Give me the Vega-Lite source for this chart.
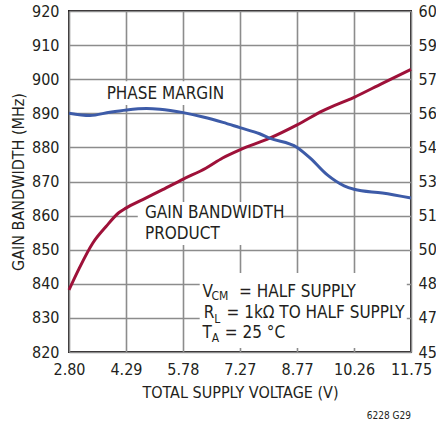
{
  "$schema": "https://vega.github.io/schema/vega-lite/v6.json",
  "width": 342,
  "height": 341,
  "autosize": "none",
  "padding": {"left": 69, "top": 11, "right": 25, "bottom": 69},
  "datasets": {
    "gbw": [
      {"x": 2.80, "mhz": 838.2},
      {"x": 3.07, "mhz": 844.6},
      {"x": 3.42, "mhz": 851.9},
      {"x": 3.77, "mhz": 856.8},
      {"x": 4.11, "mhz": 860.9},
      {"x": 4.29, "mhz": 862.2},
      {"x": 4.73, "mhz": 864.7},
      {"x": 5.25, "mhz": 867.6},
      {"x": 5.79, "mhz": 870.7},
      {"x": 6.38, "mhz": 873.9},
      {"x": 6.82, "mhz": 876.9},
      {"x": 7.27, "mhz": 879.3},
      {"x": 8.05, "mhz": 882.7},
      {"x": 8.77, "mhz": 886.6},
      {"x": 9.45, "mhz": 890.8},
      {"x": 10.26, "mhz": 894.7},
      {"x": 11.00, "mhz": 898.8},
      {"x": 11.75, "mhz": 902.9}
    ],
    "phase": [
      {"x": 2.80, "deg": 55.50},
      {"x": 3.35, "deg": 55.40},
      {"x": 3.87, "deg": 55.55},
      {"x": 4.31, "deg": 55.65},
      {"x": 4.83, "deg": 55.71},
      {"x": 5.18, "deg": 55.68},
      {"x": 5.79, "deg": 55.53},
      {"x": 6.31, "deg": 55.34},
      {"x": 6.83, "deg": 55.10},
      {"x": 7.27, "deg": 54.87},
      {"x": 7.79, "deg": 54.60},
      {"x": 8.05, "deg": 54.41},
      {"x": 8.77, "deg": 54.00},
      {"x": 9.12, "deg": 53.52},
      {"x": 9.56, "deg": 52.79},
      {"x": 10.00, "deg": 52.31},
      {"x": 10.26, "deg": 52.16},
      {"x": 11.00, "deg": 51.99},
      {"x": 11.75, "deg": 51.77}
    ],
    "boxes": [
      {"x": 3.61, "x2": 6.96, "y1": 899.4, "y2": 892.4},
      {"x": 4.60, "x2": 8.39, "y1": 864.0, "y2": 851.4},
      {"x": 6.22, "x2": 11.64, "y1": 843.2, "y2": 821.2}
    ],
    "labels": [
      {"x": 3.785, "y": 894.1, "text": "PHASE MARGIN"},
      {"x": 4.787, "y": 859.2, "text": "GAIN BANDWIDTH"},
      {"x": 4.787, "y": 853.05, "text": "PRODUCT"},
      {"x": 6.295, "y": 836.2, "text": "V"},
      {"x": 7.25, "y": 836.2, "text": "= HALF SUPPLY"},
      {"x": 6.329, "y": 829.97, "text": "R"},
      {"x": 6.922, "y": 829.97, "text": "= 1kΩ TO HALF SUPPLY"},
      {"x": 6.295, "y": 824.1, "text": "T"},
      {"x": 6.878, "y": 824.1, "text": "= 25 °C"}
    ],
    "subs": [
      {"x": 6.530, "y": 835.25, "text": "CM"},
      {"x": 6.600, "y": 828.5, "text": "L"},
      {"x": 6.538, "y": 823.05, "text": "A"}
    ]
  },
  "config": {
    "font": "DejaVu Sans Condensed, Liberation Sans",
    "view": {"stroke": "#231f20", "strokeWidth": 2},
    "axis": {
      "domain": false,
      "ticks": false,
      "tickSize": 0,
      "labelOverlap": false,
      "labelFlush": false,
      "labelFontSize": 16,
      "labelColor": "#231f20",
      "titleFontSize": 16,
      "titleFontWeight": "normal",
      "titleColor": "#231f20",
      "gridWidth": 1.6,
      "gridColor": "#8c8c8c"
    },
    "title": {"fontWeight": "normal", "color": "#231f20"}
  },
  "title": {"text": "6228 G29", "orient": "bottom", "anchor": "end", "frame": "group", "fontSize": 10, "offset": 11},
  "encoding": {
    "x": {
      "field": "x", "type": "quantitative",
      "scale": {"domain": [2.8, 11.75], "nice": false, "zero": false},
      "axis": {
        "title": "TOTAL SUPPLY VOLTAGE (V)",
        "values": [2.8, 4.29, 5.78, 7.27, 8.77, 10.26, 11.75],
        "format": ".2f",
        "labelPadding": 9,
        "titlePadding": 7,
        "labelOverlap": false,
        "labelFlush": false,
        "grid": true
      }
    }
  },
  "layer": [
    {
      "data": {"name": "boxes"},
      "mark": {"type": "rect", "fill": "white"},
      "encoding": {
        "x2": {"field": "x2"},
        "y": {"field": "y1", "type": "quantitative", "scale": {"domain": [820, 920], "nice": false, "zero": false}, "axis": null},
        "y2": {"field": "y2"}
      }
    },
    {
      "data": {"name": "gbw"},
      "mark": {"type": "line", "color": "#9e1139", "strokeWidth": 3, "interpolate": "monotone"},
      "encoding": {
        "y": {
          "field": "mhz", "type": "quantitative",
          "scale": {"domain": [820, 920], "nice": false, "zero": false},
          "axis": {
            "title": "GAIN BANDWIDTH (MHz)",
            "orient": "left",
            "values": [820, 830, 840, 850, 860, 870, 880, 890, 900, 910, 920],
            "labelPadding": 10,
            "titlePadding": 5,
            "grid": true
          }
        }
      }
    },
    {
      "data": {"name": "phase"},
      "mark": {"type": "line", "color": "#3d5ba8", "strokeWidth": 3, "interpolate": "monotone"},
      "encoding": {
        "y": {
          "field": "deg", "type": "quantitative",
          "scale": {"domain": [45, 60], "nice": false, "zero": false},
          "axis": {
            "orient": "right",
            "title": null,
            "values": [45, 46.5, 48, 49.5, 51, 52.5, 54, 55.5, 57, 58.5, 60],
            "format": ".0f",
            "labelPadding": 7,
            "grid": false
          }
        }
      }
    },
    {
      "data": {"name": "labels"},
      "mark": {"type": "text", "align": "left", "baseline": "alphabetic", "fontSize": 17, "color": "#231f20"},
      "encoding": {
        "y": {"field": "y", "type": "quantitative", "scale": {"domain": [820, 920], "nice": false, "zero": false}, "axis": null},
        "text": {"field": "text"}
      }
    },
    {
      "data": {"name": "subs"},
      "mark": {"type": "text", "align": "left", "baseline": "alphabetic", "fontSize": 12, "color": "#231f20"},
      "encoding": {
        "y": {"field": "y", "type": "quantitative", "scale": {"domain": [820, 920], "nice": false, "zero": false}, "axis": null},
        "text": {"field": "text"}
      }
    }
  ],
  "resolve": {"scale": {"y": "independent"}}
}
